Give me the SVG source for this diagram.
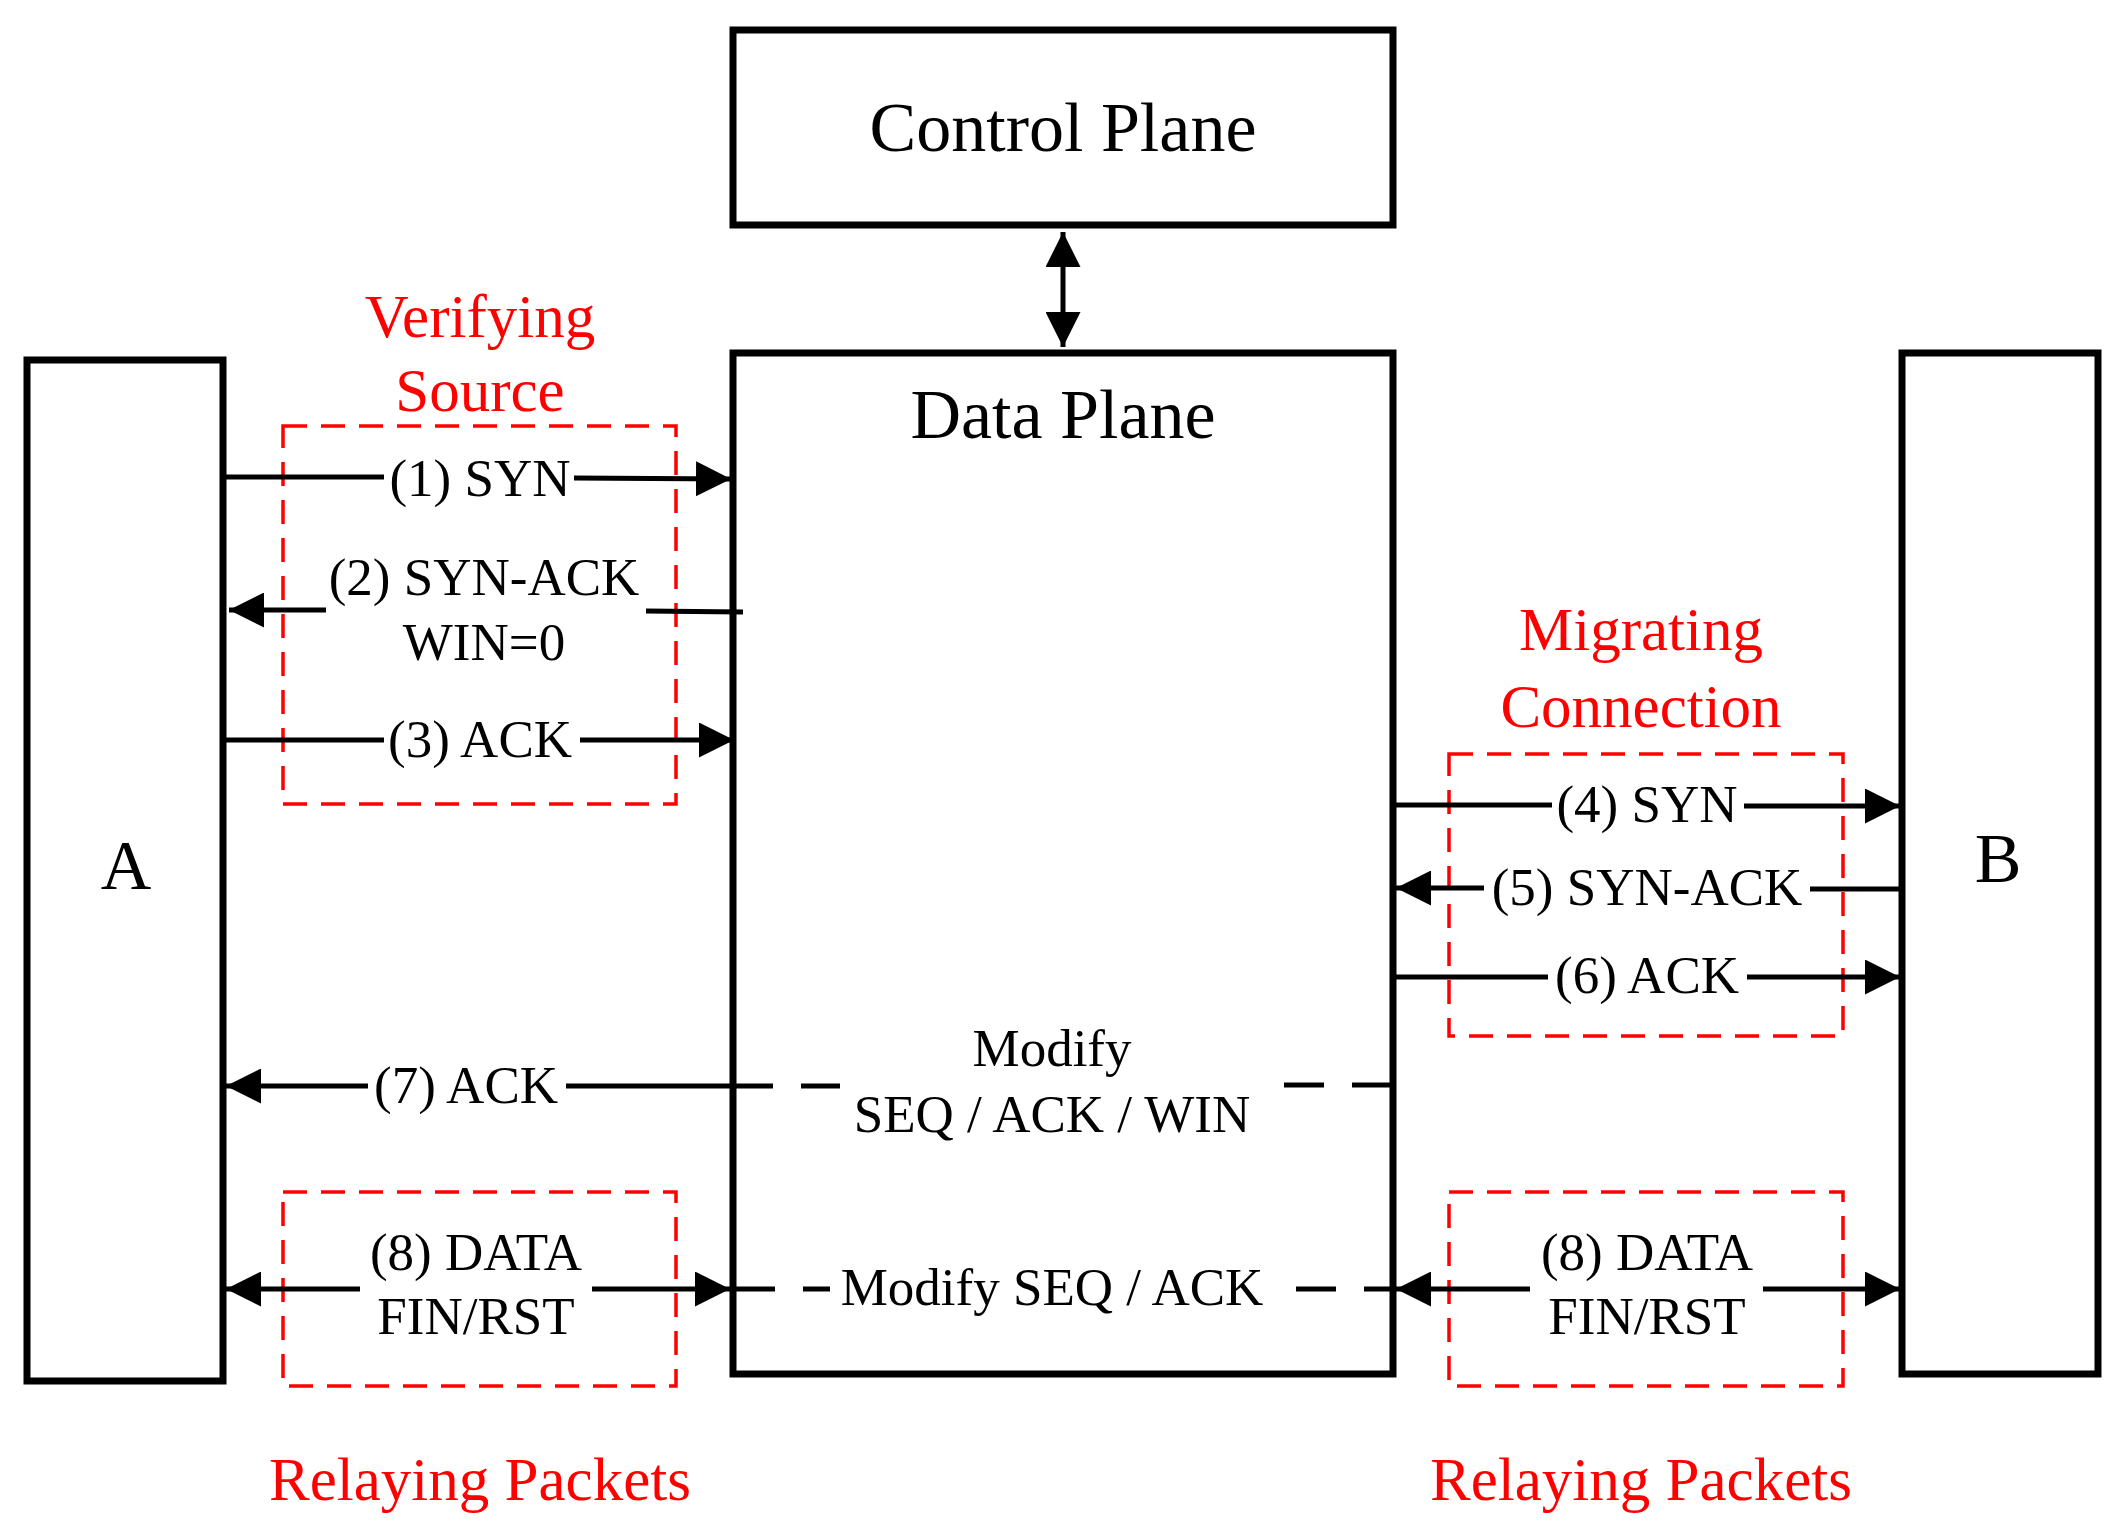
<svg xmlns="http://www.w3.org/2000/svg" width="2120" height="1536" viewBox="0 0 2120 1536">
<style>
.box{fill:#fff;stroke:#000;stroke-width:7}
.red{fill:none;stroke:#f00;stroke-width:3.5;stroke-dasharray:24 14}
.t{font-family:"Liberation Serif",serif;fill:#000;text-anchor:middle}
.r{font-family:"Liberation Serif",serif;fill:#f00;text-anchor:middle;font-size:61px}
.big{font-size:70px}
.m{font-size:53px}
.ln{stroke:#000;stroke-width:5;fill:none}
.dl{stroke:#000;stroke-width:5;fill:none;stroke-dasharray:40 28}
</style>
<defs>
<marker id="ah" viewBox="0 0 10 10" refX="10" refY="5" markerWidth="7" markerHeight="7" orient="auto-start-reverse" markerUnits="strokeWidth"><path d="M0,0 L10,5 L0,10 z" fill="#000"/></marker>
</defs>
<rect width="2120" height="1536" fill="#fff"/>
<g id="control"><rect class="box" x="733" y="30" width="660" height="195"/><text class="t big" x="1063" y="151">Control Plane</text></g>
<g id="data"><rect class="box" x="733" y="353" width="660" height="1021"/><text class="t big" x="1063" y="438">Data Plane</text></g>
<g id="A"><rect class="box" x="27" y="360" width="196" height="1021"/><text class="t big" x="126" y="889">A</text></g>
<g id="B"><rect class="box" x="1902" y="353" width="196" height="1021"/><text class="t big" x="1998" y="882">B</text></g>
<g id="groups">
<rect class="red" x="283" y="426" width="393" height="378"/>
<text class="r" x="480" y="337">Verifying</text><text class="r" x="480" y="411">Source</text>
<rect class="red" x="1449" y="754" width="394" height="282"/>
<text class="r" x="1641" y="650">Migrating</text><text class="r" x="1641" y="727">Connection</text>
<rect class="red" x="283" y="1192" width="393" height="194"/>
<rect class="red" x="1449" y="1192" width="394" height="194"/>
<text class="r" x="480" y="1500">Relaying Packets</text><text class="r" x="1641" y="1500">Relaying Packets</text>
</g>
<g id="connectors">
<line class="ln" x1="1063" y1="232" x2="1063" y2="347" stroke-width="7" marker-start="url(#ah)" marker-end="url(#ah)"/>
<line class="ln" x1="223" y1="477" x2="384" y2="477"/><line class="ln" x1="574" y1="478" x2="731" y2="479" marker-end="url(#ah)"/>
<text class="t m" x="480" y="496">(1) SYN</text>
<line class="ln" x1="646" y1="611" x2="743" y2="612"/><line class="ln" x1="326" y1="610" x2="229" y2="610" marker-end="url(#ah)"/>
<text class="t m" x="484" y="595">(2) SYN-ACK</text><text class="t m" x="484" y="660">WIN=0</text>
<line class="ln" x1="223" y1="740" x2="384" y2="740"/><line class="ln" x1="580" y1="740" x2="734" y2="740" marker-end="url(#ah)"/>
<text class="t m" x="480" y="757">(3) ACK</text>
<line class="ln" x1="1393" y1="805" x2="1552" y2="805"/><line class="ln" x1="1744" y1="806" x2="1900" y2="806" marker-end="url(#ah)"/>
<text class="t m" x="1647" y="822">(4) SYN</text>
<line class="ln" x1="1900" y1="889" x2="1810" y2="889"/><line class="ln" x1="1484" y1="888" x2="1396" y2="888" marker-end="url(#ah)"/>
<text class="t m" x="1647" y="905">(5) SYN-ACK</text>
<line class="ln" x1="1393" y1="977" x2="1548" y2="977"/><line class="ln" x1="1747" y1="977" x2="1900" y2="977" marker-end="url(#ah)"/>
<text class="t m" x="1647" y="993">(6) ACK</text>
<line class="ln" x1="566" y1="1086" x2="733" y2="1086"/><line class="ln" x1="368" y1="1086" x2="226" y2="1086" marker-end="url(#ah)"/>
<text class="t m" x="466" y="1103">(7) ACK</text>
<line class="dl" x1="733" y1="1086" x2="840" y2="1086"/><line class="dl" x1="1284" y1="1085" x2="1393" y2="1085"/>
<text class="t m" x="1052" y="1066">Modify</text><text class="t m" x="1052" y="1132">SEQ / ACK / WIN</text>
<line class="ln" x1="360" y1="1289" x2="226" y2="1289" marker-end="url(#ah)"/><line class="ln" x1="592" y1="1289" x2="730" y2="1289" marker-end="url(#ah)"/>
<text class="t m" x="476" y="1270">(8) DATA</text><text class="t m" x="476" y="1334">FIN/RST</text>
<line class="dl" x1="735" y1="1289" x2="830" y2="1289"/><line class="dl" x1="1296" y1="1289" x2="1390" y2="1289"/>
<text class="t m" x="1052" y="1305">Modify SEQ / ACK</text>
<line class="ln" x1="1530" y1="1289" x2="1396" y2="1289" marker-end="url(#ah)"/><line class="ln" x1="1763" y1="1289" x2="1900" y2="1289" marker-end="url(#ah)"/>
<text class="t m" x="1647" y="1270">(8) DATA</text><text class="t m" x="1647" y="1334">FIN/RST</text>
</g>
</svg>
